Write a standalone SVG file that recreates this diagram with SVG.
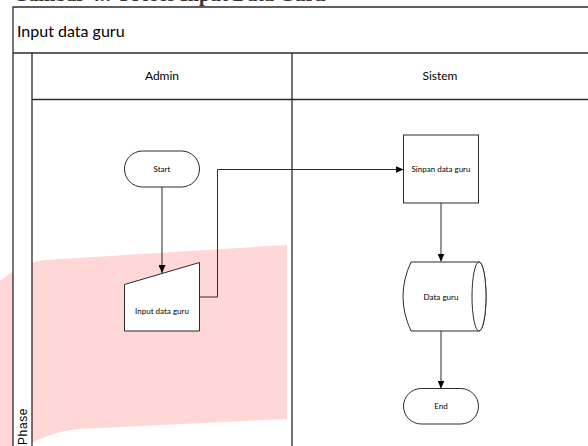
<svg xmlns="http://www.w3.org/2000/svg" width="588" height="446" viewBox="0 0 588 446">
  <style>
    .frame{fill:none;stroke:#2b2b2b;stroke-width:1.3}
    .shape{fill:#ffffff;stroke:#2b2b2b;stroke-width:1}
    .conn{fill:none;stroke:#2b2b2b;stroke-width:1;marker-end:url(#arrow)}
    .lbl{font-family:Lato,"Liberation Sans",sans-serif;font-size:8px;fill:#000;text-anchor:middle}
    .head{font-family:Lato,"Liberation Sans",sans-serif;font-size:12px;fill:#000;text-anchor:middle}
  </style>
  <defs>
    <marker id="arrow" markerWidth="8" markerHeight="7" refX="8" refY="3.5" orient="auto" markerUnits="userSpaceOnUse">
      <path d="M0,0 L8,3.5 L0,7 Z" fill="#000"/>
    </marker>
  </defs>

  <rect x="0" y="0" width="588" height="446" fill="#ffffff"/>

  <!-- page caption, cut by the page edge -->
  <text x="13" y="1" font-family="'Liberation Serif',serif" font-weight="bold" font-size="20" fill="#333">Gambar 4.7 Proses Input Data Guru</text>

  <!-- background logo mark -->
  <path d="M0,281 C14,270 28,262 46,260 L287,245 L287,419 L78,429 C58,431 42,437 26,446 L0,446 Z" fill="#ffd7d7"/>

  <!-- swimlane frame -->
  <g id="pool">
    <rect x="13" y="53" width="19" height="400" fill="#ffffff"/>
    <rect x="13" y="7" width="580" height="46" fill="#ffffff"/>
    <path class="frame" d="M13,450 L13,7 L590,7"/>
    <path class="frame" d="M13,53 L590,53"/>
    <path class="frame" d="M32,53 L32,450"/>
    <path class="frame" d="M32,99.5 L590,99.5"/>
    <path class="frame" d="M292,53 L292,450"/>
    <text x="17" y="37" font-family="Lato,'Liberation Sans',sans-serif" font-size="16" fill="#000">Input data guru</text>
    <text class="head" x="162" y="80">Admin</text>
    <text class="head" x="440" y="80">Sistem</text>
    <text x="27" y="445" transform="rotate(-90 27 445)" font-family="'Liberation Sans',Arial,sans-serif" font-size="12" letter-spacing="0.6" fill="#000">Phase</text>
  </g>

  <!-- connectors -->
  <g id="connectors">
    <path class="conn" d="M162,187 L162,273"/>
    <path class="conn" d="M199,297 L217.5,297 L217.5,169.5 L403.5,169.5"/>
    <path class="conn" d="M441,203 L441,261.5"/>
    <path class="conn" d="M441,331 L441,388.5"/>
  </g>

  <g id="start">
    <rect class="shape" x="124.5" y="151" width="75" height="36" rx="18" ry="18"/>
    <text class="lbl" x="162" y="172">Start</text>
  </g>

  <g id="input-data-guru">
    <path class="shape" d="M124.5,284.5 L199.5,262.5 L199.5,331 L124.5,331 Z"/>
    <text class="lbl" x="162" y="314">Input data guru</text>
  </g>

  <g id="sinpan-data-guru">
    <rect class="shape" x="403.5" y="135" width="75" height="68"/>
    <text class="lbl" x="441" y="172">Sinpan data guru</text>
  </g>

  <g id="data-guru">
    <path class="shape" d="M411,262 L479,262 A7,34.5 0 0 1 479,331 L411,331 Q395,296.5 411,262 Z"/>
    <ellipse class="shape" cx="479" cy="296.5" rx="7" ry="34.5" fill="none"/>
    <text class="lbl" x="441" y="299.5">Data guru</text>
  </g>

  <g id="end">
    <rect class="shape" x="403.5" y="388.5" width="75" height="35.5" rx="17.75" ry="17.75"/>
    <text class="lbl" x="441" y="409">End</text>
  </g>
</svg>
